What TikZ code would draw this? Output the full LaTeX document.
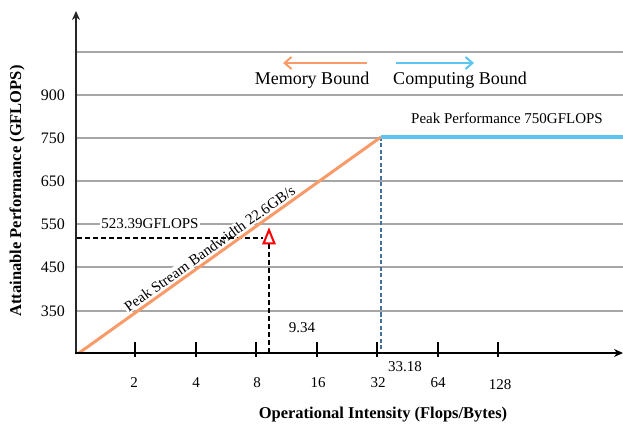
\documentclass[tikz,border=0pt]{standalone}
\usepackage{fontspec}
\setmainfont{Liberation Serif}
\usetikzlibrary{arrows.meta}
\definecolor{gridgray}{HTML}{A6A6A6}
\definecolor{memorange}{HTML}{F89B68}
\definecolor{compblue}{HTML}{5BC5F2}
\definecolor{dashblue}{HTML}{41719C}
\definecolor{axisgray}{HTML}{262626}
\tikzset{
  gridline/.style={draw=gridgray, line width=2pt},
  ticklabel/.style={font=\fontsize{15}{18}\selectfont, inner sep=1pt},
  ylabel/.style={font=\fontsize{16}{19}\selectfont, anchor=east, inner sep=1pt},
  annot/.style={font=\fontsize{15}{18}\selectfont, inner sep=1pt},
  legendtxt/.style={font=\fontsize{18}{21}\selectfont, inner sep=1pt},
  axistitle/.style={font=\fontsize{16.5}{20}\selectfont\bfseries, inner sep=1pt},
  tickmark/.style={draw=black, line width=2pt},
  blackdash/.style={draw=black, line width=2pt, dash pattern=on 5pt off 3pt},
  bluedash/.style={draw=dashblue, line width=2pt, dash pattern=on 4pt off 2.5pt},
}
\begin{document}
\begin{tikzpicture}[x=1pt,y=-1pt]
\useasboundingbox (0,0) rectangle (623,427);
% grid lines
\foreach \gy in {52,95,138,181,224,267,311}
  \draw[gridline] (77,\gy) -- (623,\gy);
% y tick labels
\node[ylabel] (y900) at (66,95) {900};
\node[ylabel] (y750) at (66,138) {750};
\node[ylabel] (y650) at (66,181) {650};
\node[ylabel] (y550) at (66,224) {550};
\node[ylabel] (y450) at (66,267) {450};
\node[ylabel] (y350) at (66,311) {350};
% key points
\coordinate (origin) at (79,353);
\coordinate (ridge) at (381,137);
\coordinate (peakend) at (623,137);
\coordinate (ridgefoot) at (381,353);
\coordinate (ptleft) at (77,238);
\coordinate (ptwest) at (263,238);
\coordinate (ptsouth) at (269,244);
\coordinate (ptfoot) at (269,353);
% annotations with white background
\node[annot, fill=white] (lblpt) at (150,224) {523.39GFLOPS};
\path (origin) -- node[annot, sloped, above=2.5pt, pos=0.45, fill=white, inner sep=1pt] (lblbw) {Peak Stream Bandwidth 22.6GB/s} (ridge);
\node[annot] (lblpeak) at (507,118) {Peak Performance 750GFLOPS};
\node[annot] (lbl934) at (302,328) {9.34};
\node[annot] (lbl3318) at (405,367) {33.18};
% legend
\coordinate (memstart) at (367,63);
\coordinate (memend) at (283,63);
\coordinate (compstart) at (396,63);
\coordinate (compend) at (474,63);
\draw[memorange, line width=2pt, -{Straight Barb[length=7pt,width=12pt,line width=2pt]}] (memstart) -- (memend);
\draw[compblue, line width=2pt, -{Straight Barb[length=7pt,width=12pt,line width=2pt]}] (compstart) -- (compend);
\node[legendtxt] (memtxt) at (312,80) {Memory Bound};
\node[legendtxt] (comptxt) at (460,80) {Computing Bound};
% measured point dashed guides
\draw[blackdash] (ptleft) -- (ptwest);
\draw[blackdash] (ptsouth) -- (ptfoot);
% ridge dashed
\draw[bluedash] (ridge) -- (ridgefoot);
% roofline
\draw[memorange, line width=3pt] (origin) -- (ridge);
\draw[compblue, line width=4pt] (ridge) -- (peakend);
% red triangle
\draw[red, line width=2pt, fill=white, line join=miter] (263.5,243.5) -- (269,230) -- (274.5,243.5) -- cycle;
% axes
\draw[axisgray, line width=2pt, -{Stealth[length=9pt,width=8pt]}] (76,354) -- (76,11);
\draw[black, line width=2pt, -{Stealth[length=9pt,width=8pt]}] (75,353) -- (623,353);
% x ticks
\foreach \tx in {135,196,256,317,377,438,498}
  \draw[tickmark] (\tx,342) -- (\tx,357);
\node[ticklabel] (x2) at (134,383) {2};
\node[ticklabel] (x4) at (196,383) {4};
\node[ticklabel] (x8) at (257,383) {8};
\node[ticklabel] (x16) at (318,383) {16};
\node[ticklabel] (x32) at (378,383) {32};
\node[ticklabel] (x64) at (438,383) {64};
\node[ticklabel] (x128) at (500,385) {128};
% axis titles
\node[axistitle] (xtitle) at (383,415) {Operational Intensity (Flops/Bytes)};
\node[axistitle, rotate=90] (ytitle) at (17,191) {Attainable Performance (GFLOPS)};
\end{tikzpicture}
\end{document}
